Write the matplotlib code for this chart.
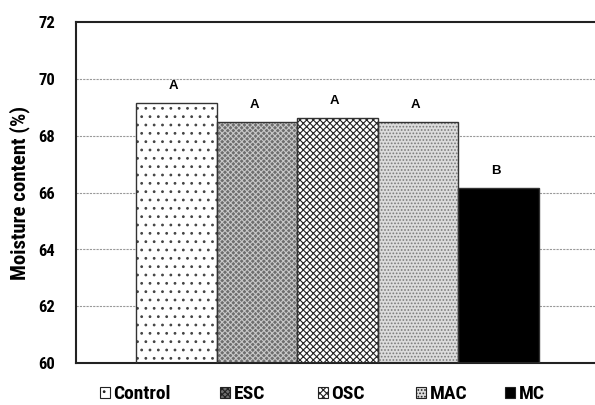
import matplotlib
matplotlib.use("Agg")
import matplotlib.pyplot as plt
from matplotlib import font_manager

categories = ["Control", "ESC", "OSC", "MAC", "MC"]
values = [69.15, 68.5, 68.62, 68.5, 66.16]
letters = ["A", "A", "A", "A", "B"]
yticks = [60, 62, 64, 66, 68, 70, 72]

names = {f.name for f in font_manager.fontManager.ttflist}
fam = next((n for n in ["Liberation Sans Narrow", "Roboto Condensed", "Archivo Narrow", "Liberation Sans"]
            if n in names), "DejaVu Sans")
plt.rcParams['font.family'] = [fam, 'DejaVu Sans']
plt.rcParams['hatch.linewidth'] = 0.8

faces = ["white", "#6e6e6e", "white", "#dcdcdc", "black"]
hatches = ["..", "xxxxxx", "xxxxx", ".....", None]
hcolors = ["#444444", "#c8c8c8", "#222222", "#7a7a7a", "black"]
legend_x = [100, 220, 318, 416, 505]

fig = plt.figure(figsize=(5.95, 4.05), dpi=100)
ax = fig.add_axes([76/595, 1-363/405, 523/595, 340.5/405])

handles = []
for i, (c, v) in enumerate(zip(categories, values)):
    b = ax.bar(i, v - 60, bottom=60, width=1.0, facecolor=faces[i],
               edgecolor=hcolors[i], hatch=hatches[i], linewidth=0, label=c, zorder=2)
    handles.append(b[0])
    ax.bar(i, v - 60, bottom=60, width=1.0, facecolor="none",
           edgecolor="#333333", linewidth=1.0, zorder=3)
    ax.annotate(letters[i], (i, v), xytext=(-2, 8), textcoords="offset points",
                ha="center", va="bottom", fontsize=9.5, fontweight="bold",
                family="Liberation Sans")

ax.set_xlim(-1.245, 5.245)
ax.set_ylim(60, 72)
ax.set_yticks(yticks)
ax.set_yticklabels([str(t) for t in yticks], fontsize=12, fontweight="bold")
ax.tick_params(axis='y', length=0, pad=15)
ax.set_xticks([])
for y in yticks[1:-1]:
    ax.axhline(y, color="#999999", linestyle=(0, (2, 1)), linewidth=0.8, zorder=1)
for s in ax.spines.values():
    s.set_linewidth(1.5)
    s.set_color("#222222")
ax.set_ylabel("Moisture content (%)", fontsize=15, fontweight="bold", labelpad=6)

for h, c, x in zip(handles, categories, legend_x):
    leg = fig.legend(handles=[h], labels=[c], loc="center left",
                     bbox_to_anchor=(x/595, 1-394/405), frameon=False,
                     borderpad=0, borderaxespad=0,
                     handlelength=0.5, handleheight=0.5, handletextpad=0.2,
                     prop={"weight": "bold", "size": 14})
    for p in leg.get_patches():
        p.set_edgecolor("#222222")
        p.set_linewidth(0.8)

fig.savefig("out.png", dpi=100)
